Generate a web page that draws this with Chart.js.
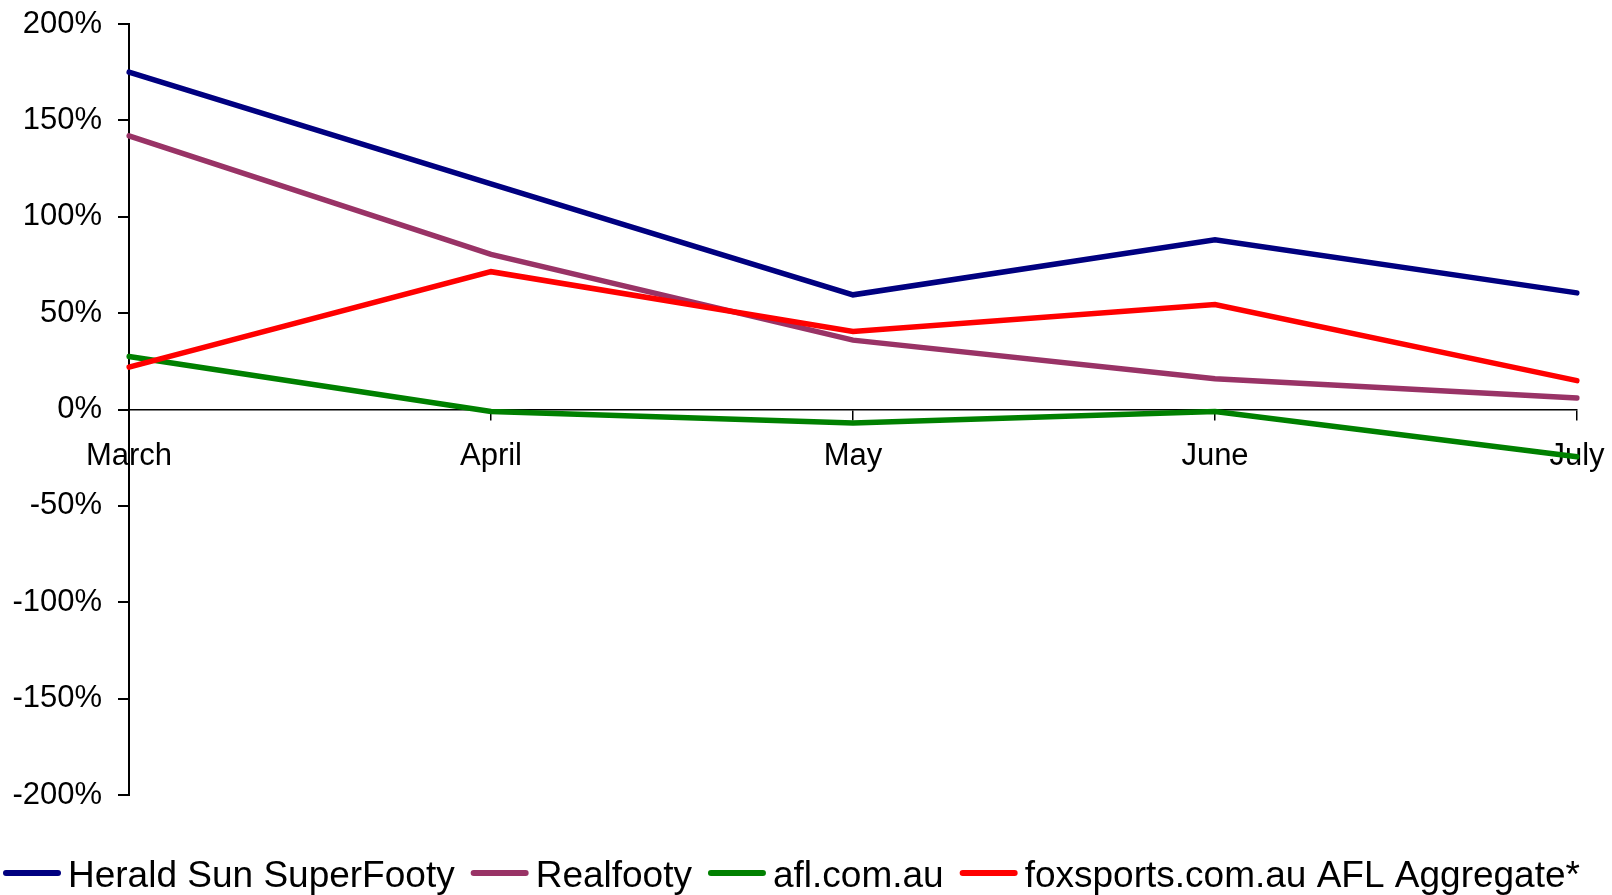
<!DOCTYPE html>
<html>
<head>
<meta charset="utf-8">
<script src="https://cdn.jsdelivr.net/npm/chart.js@4/dist/chart.umd.min.js"></script>
<style>
  html, body { margin: 0; padding: 0; background: #ffffff; }
  #wrap { width: 1612px; height: 895px; position: relative; }
</style>
</head>
<body>
<div id="wrap"><canvas id="c" width="1612" height="895"></canvas></div>
<script>
const months = ["March", "April", "May", "June", "July"];
const heraldSun = [175, 117, 59.5, 88, 60.5];
const realfooty = [142, 80.5, 36, 16, 6];
const aflComAu = [27.5, -1, -7, -1, -24.5];
const foxsports = [22, 71.5, 40.5, 54.5, 15];
const seriesNames = ["Herald Sun SuperFooty", "Realfooty", "afl.com.au", "foxsports.com.au AFL Aggregate*"];
const seriesColors = ["#000080", "#993366", "#008000", "#FF0000"];
const yTicks = [-200, -150, -100, -50, 0, 50, 100, 150, 200];

const FONT = "'Liberation Sans', Arial, sans-serif";

const legendPlugin = {
  id: 'customLegend',
  afterDraw(chart) {
    const ctx = chart.ctx;
    ctx.save();
    ctx.font = "37px " + FONT;
    ctx.textBaseline = 'alphabetic';
    ctx.textAlign = 'left';
    let x = 3;
    const yLine = 873;
    const yText = 887;
    chart.data.datasets.forEach(ds => {
      ctx.strokeStyle = ds.borderColor;
      ctx.lineWidth = 6;
      ctx.lineCap = 'round';
      ctx.beginPath();
      ctx.moveTo(x + 3, yLine);
      ctx.lineTo(x + 55, yLine);
      ctx.stroke();
      ctx.fillStyle = '#000';
      const tx = x + 65;
      ctx.fillText(ds.label, tx, yText);
      x = tx + ctx.measureText(ds.label).width + 16;
    });
    ctx.restore();
  }
};

const values = [heraldSun, realfooty, aflComAu, foxsports];
const datasets = values.map((v, i) => ({
  label: seriesNames[i],
  data: v,
  borderColor: seriesColors[i],
  backgroundColor: seriesColors[i],
  borderWidth: 5.5,
  borderCapStyle: 'round',
  pointRadius: 0,
  pointHoverRadius: 0,
  tension: 0,
  fill: false,
  order: 4 - i
}));

new Chart(document.getElementById('c'), {
  type: 'line',
  data: { labels: months, datasets },
  options: {
    responsive: false,
    animation: false,
    events: [],
    layout: { padding: { top: 24, right: 35, bottom: 100, left: 0 } },
    plugins: { legend: { display: false }, tooltip: { enabled: false } },
    scales: {
      x: {
        position: { y: 0 },
        offset: false,
        afterFit(scale) { scale.paddingLeft = 0; scale.paddingRight = 0; },
        grid: { display: true, drawOnChartArea: false, drawTicks: true, tickLength: 10, color: '#000', lineWidth: 1.5 },
        border: { display: true, color: '#000', width: 1.5 },
        ticks: { color: '#000', font: { family: FONT, size: 31 }, padding: 18, maxRotation: 0, autoSkip: false }
      },
      y: {
        min: -200, max: 200,
        afterBuildTicks(scale) { scale.ticks = yTicks.map(v => ({ value: v })); },
        afterFit(scale) { scale.width = 129; scale.paddingTop = 0; scale.paddingBottom = 0; },
        grid: { display: true, drawOnChartArea: false, drawTicks: true, tickLength: 11, color: '#000', lineWidth: 2 },
        border: { display: true, color: '#000', width: 2 },
        ticks: { color: '#000', font: { family: FONT, size: 31 }, padding: 16, callback: v => v + '%' }
      }
    }
  },
  plugins: [legendPlugin]
});
</script>
</body>
</html>
